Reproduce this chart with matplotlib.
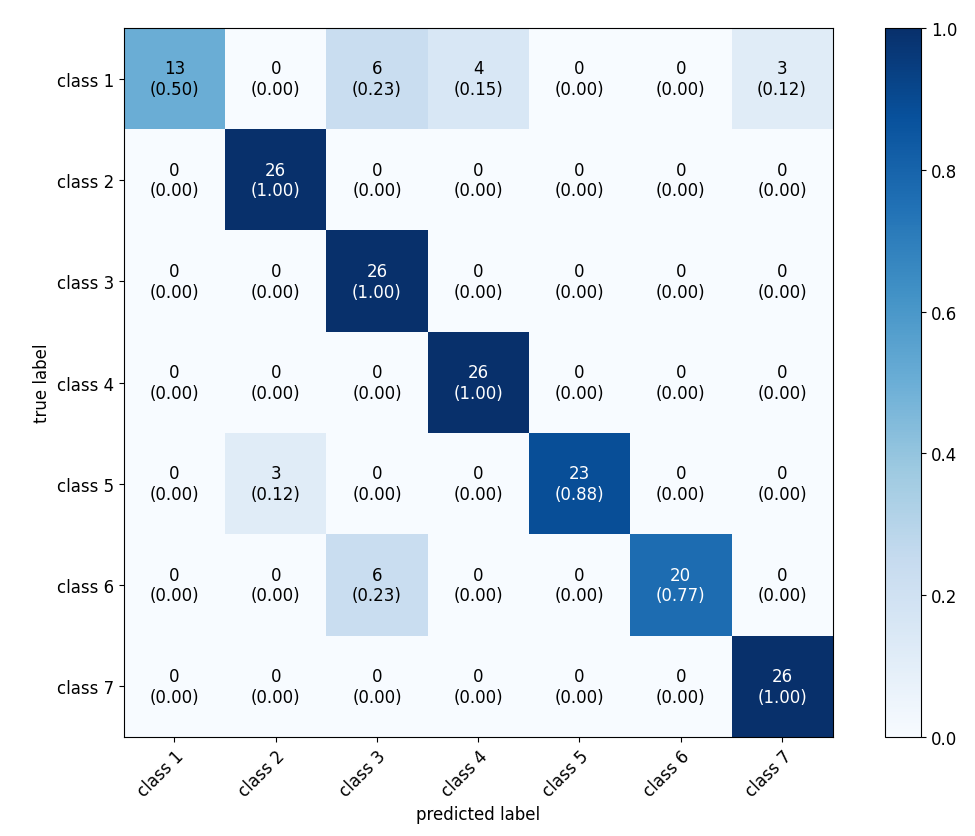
import numpy as np
import matplotlib
matplotlib.use("Agg")
import matplotlib.pyplot as plt

classes = ["class 1", "class 2", "class 3", "class 4", "class 5", "class 6", "class 7"]
counts = [
    [13, 0, 6, 4, 0, 0, 3],
    [0, 26, 0, 0, 0, 0, 0],
    [0, 0, 26, 0, 0, 0, 0],
    [0, 0, 0, 26, 0, 0, 0],
    [0, 3, 0, 0, 23, 0, 0],
    [0, 0, 6, 0, 0, 20, 0],
    [0, 0, 0, 0, 0, 0, 26],
]

cm = np.array(counts, dtype=float)
normed = cm / cm.sum(axis=1, keepdims=True)

plt.rcParams["font.size"] = 12

fig = plt.figure(figsize=(9.75, 8.37), dpi=100)
ax = fig.add_axes([0.127, 0.1183, 0.727, 0.847])
cax = fig.add_axes([0.9077, 0.1183, 0.0369, 0.847])

im = ax.imshow(normed, cmap="Blues", vmin=0, vmax=1, aspect="auto")
cb = fig.colorbar(im, cax=cax)
cb.set_ticks([0.0, 0.2, 0.4, 0.6, 0.8, 1.0])

n = len(classes)
for i in range(n):
    for j in range(n):
        color = "white" if normed[i, j] > 0.5 else "black"
        ax.text(j, i, f"{int(counts[i][j])}\n({normed[i, j]:.2f})",
                ha="center", va="center", color=color, fontsize=12)

ax.set_xticks(range(n))
ax.set_yticks(range(n))
ax.set_xticklabels(classes, rotation=45, ha="right", rotation_mode="anchor")
ax.set_yticklabels(classes)
ax.set_xlabel("predicted label")
ax.set_ylabel("true label")

fig.savefig("out.png", dpi=100)
